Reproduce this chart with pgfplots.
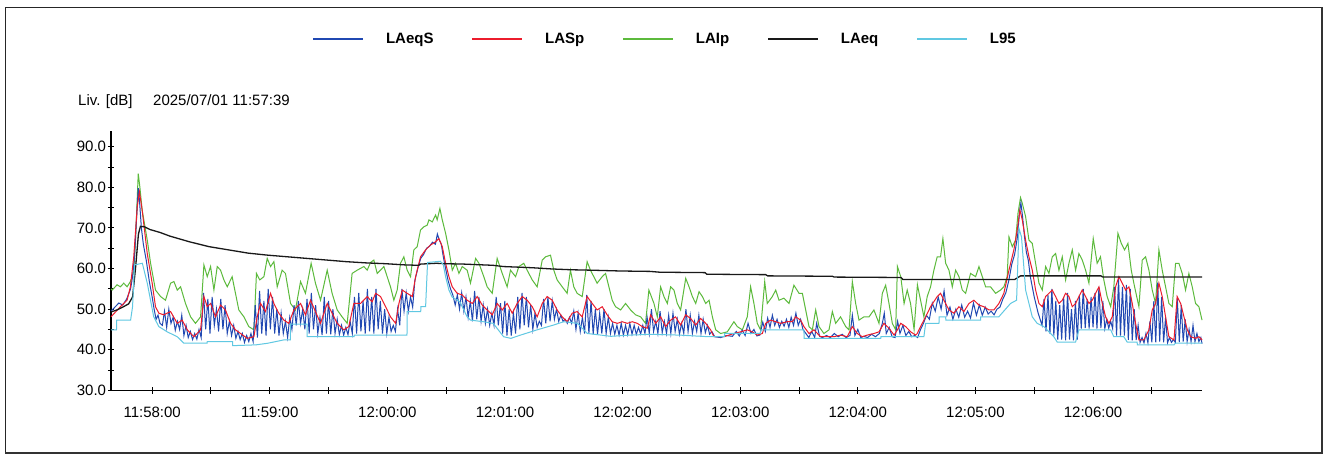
\documentclass[border=0pt]{standalone}
\usepackage{fontspec}
\setmainfont{Liberation Sans}
\usepackage{pgfplots}
\pgfplotsset{compat=1.18}
\definecolor{cBlue}{RGB}{32,72,178}
\definecolor{cRed}{RGB}{236,28,44}
\definecolor{cGreen}{RGB}{92,186,60}
\definecolor{cBlack}{RGB}{25,25,25}
\definecolor{cCyan}{RGB}{96,200,226}
\begin{document}
\begin{tikzpicture}[x=1pt,y=1pt]
\path[use as bounding box] (0,0) rectangle (1335,455);
\fill[white] (0,0) rectangle (1335,455);
\draw[line width=1pt,black!85] (5,2) -- (5,447.5) -- (1322,447.5);
\draw[line width=2pt,black!80] (1322,447.5) -- (1322,2.5) -- (5,2.5);
\begin{axis}[
  at={(111pt,64.7pt)}, anchor=south west,
  scale only axis, width=1091pt, height=259.3pt,
  xmin=0, xmax=556.6, ymin=30, ymax=93.9,
  axis lines=left, axis line style={-, line width=1.2pt},
  tick align=center, major tick length=6.5pt, minor tick length=6.5pt,
  tick style={line width=1pt, black},
  xtick={21,81,141,201,261,321,381,441,501},
  xticklabels={11:58:00,11:59:00,12:00:00,12:01:00,12:02:00,12:03:00,12:04:00,12:05:00,12:06:00},
  minor xtick={51,111,171,231,291,351,411,471,531},
  ytick={30,40,50,60,70,80,90},
  yticklabels={30.0,40.0,50.0,60.0,70.0,80.0,90.0},
  minor ytick={35,45,55,65,75,85},
  tick label style={font=\fontsize{15}{18}\selectfont},
  yticklabel style={inner sep=0pt, xshift=-1.5pt},
  xticklabel style={inner sep=0pt, yshift=-13pt},
  legend style={at={(axis description cs:0.507,1.355)}, anchor=center, draw=none,
    legend columns=5, font=\fontsize{15}{18}\selectfont\bfseries,
    /tikz/every odd column/.append style={column sep=22pt},
    /tikz/every even column/.append style={column sep=38pt},
    nodes={inner sep=0pt}},
  legend image code/.code={\draw[#1, line width=1.6pt] (0pt,0pt) -- (50pt,0pt);},
  clip=false,
]
% LAIp
\addplot[cGreen, line width=1pt, forget plot] coordinates {
(0,55.0) (0.6,54.7) (3.1,56) (4.8,55.5) (6.5,56.4) (8.2,55.5) (9.9,56.8) (11.6,59.2) (12.5,67) (13.9,83.4) (14.7,80.2) (15.9,74.4) (18.5,67) (20.2,61.3) (22.7,54.7) (25.3,53.1) (27.8,52.2) (30.4,56.4) (32.1,56.8) (33.8,54.7) (35.5,55.5) (38,51.4) (40.6,48.1) (43.1,46.5) (45.7,48.1) (47.4,60.9) (49.1,58) (50.8,60.5) (52.5,54.7) (54.2,60.5) (55.9,59.6) (57.6,57.2) (59.3,55.5) (61.8,58) (63.5,53.9) (65.2,49.8) (67.8,48.1) (70.3,45.7) (72.9,44.9) (74.2,58.8) (75.9,57.2) (78,58) (79.7,62.5) (81.4,60.5) (83.1,61.7) (84.8,55.5) (87.3,59.6) (89,58.8) (91.6,51.4) (94.1,49.8) (96.7,56.8) (99.2,53.9) (102.1,61.3) (104.3,56.4) (106.9,52.2) (110.3,59.6) (112.8,53.9) (115.4,49.8) (117.9,48.1) (120.5,46.5) (123,58.8) (125.6,59.6) (129,60.5) (130.7,59.6) (132.4,61.5) (134.1,62.1) (135.8,58.8) (137.5,59.6) (139.2,60.5) (140.9,58) (142.6,55.5) (144.3,52.2) (146,54.7) (147.7,61.3) (149.4,62.9) (151.1,59.6) (152.8,58) (154.5,64.6) (156.2,65.4) (157.9,69.5) (159.6,70.3) (161.3,70.7) (162.2,72) (163.9,71.5) (165.6,73.2) (166.4,72) (167.8,74.8) (169,72) (170.7,68.7) (172.4,64.6) (174.1,59.6) (175.8,61.3) (177.5,58.8) (179.2,60.5) (181.7,59.6) (183.4,56.4) (186,62.5) (187.7,61.3) (190.2,58) (191.9,55.5) (194.5,53.9) (197,62.5) (199.6,58.8) (202.1,55.5) (203.8,59.6) (206.4,58) (208.1,60.5) (210.6,61.3) (212.3,59.6) (214.9,57.2) (217.4,55.5) (220,62.1) (221.7,62.9) (224.2,63.3) (225.9,59.6) (227.6,57.2) (230.2,55.5) (232.7,53.9) (234.4,59.6) (236.1,55.5) (237.8,53.9) (240.4,53.1) (242.9,61.7) (244.6,59.6) (246.3,58) (248,56.4) (250.6,58) (252.3,58.8) (254,55.5) (255.7,52.2) (257.4,50.6) (260,49.8) (262.5,51.4) (265.1,49.8) (267.6,48.6) (270.2,48.1) (272.7,46.5) (274.4,54.7) (277,51.4) (278.7,48.1) (280.4,55.5) (282.1,53.1) (283.8,51.4) (285.5,55.5) (287.2,54.7) (288.9,51.4) (290.6,49.8) (293.2,57.6) (294.9,55.5) (296.6,53.1) (298.3,51.4) (300,54.3) (301.7,53.1) (303.4,51.4) (305.1,52.2) (306.8,48.1) (308.5,44.9) (311,44) (314.4,44.4) (317.8,46.9) (319.5,45.7) (322.1,44.9) (324.6,48.1) (326.3,55.5) (328,51.4) (329.7,46.5) (331.4,44.9) (333.5,56.8) (334.8,51.4) (337.4,53.1) (339.1,54.7) (340.8,52.2) (343.3,52.7) (345.9,51.4) (348.4,55.9) (351,53.9) (352.7,53.9) (354.4,49.8) (356.1,45.7) (357.8,44.9) (359.5,49.8) (361.2,45.7) (363.7,44) (366.3,44.9) (368,49.4) (369.7,46.5) (372.2,48.1) (374.8,45.7) (376.5,44.9) (378.2,56.8) (379.9,51.4) (381.6,47.3) (384.1,48.1) (386.7,48.1) (389.2,49.8) (391.8,46.5) (393.5,53.9) (395.2,55.9) (396.9,51.4) (398.6,46.5) (400.3,44.9) (401.2,60.5) (402.9,58) (404.6,51.4) (406.2,54.7) (407.9,51.4) (409.7,45.0) (411.4,56.0) (413,52.2) (414.7,48.1) (416.4,53.1) (418.1,55.5) (419.8,59.6) (421.5,62.9) (423.2,62.9) (424.4,67.4) (425.8,61.3) (427.5,59.6) (429.2,55.5) (430.9,59.6) (432.6,58) (434.3,54.7) (436,53.9) (438.5,58.8) (441.1,58) (442.8,60.5) (444.5,58) (446.2,55.5) (448.7,55.5) (451.3,53.9) (453.8,54.7) (455.5,55.5) (457.2,58) (458.1,67.8) (459.8,65.4) (461.5,67) (462.7,73.6) (464,77.5) (464.9,76.1) (466.6,72.8) (468.3,67) (470,66.2) (471.7,61.3) (473.4,56.4) (475.1,54.7) (476.8,60.5) (478.5,58.8) (480.2,62.9) (481.9,63.7) (483.6,59.6) (485.3,62.9) (487,57.2) (488.7,61.3) (490.4,64.6) (492.1,59.6) (493.8,63.7) (495.5,62.1) (497.2,59.6) (498.9,56.4) (501.1,67.4) (503.1,61.3) (504.8,62.9) (506.5,57.2) (508.2,53.1) (510,50.6) (511.6,55.5) (513.7,68.7) (515.4,66.2) (517.1,64.6) (518.8,66.2) (520.5,59.6) (522.2,55.5) (524.4,50.6) (526.1,62.1) (527.8,62.9) (529.5,59.6) (531.2,54.7) (532.9,51.4) (534.6,64.6) (536.3,59.6) (538,55.5) (539.7,51.4) (541.4,50.6) (543.1,61.3) (544.8,61.3) (546.5,58.8) (548.2,54.7) (549.9,58.8) (551.6,55.5) (553.3,51.4) (555,50.6) (556.6,47.3)
};
% LAeqS
\addplot[cBlue, line width=1pt, forget plot] coordinates {
(0,49.5) (2,50.5) (4,51.5) (6,51) (8,52.5) (10,55) (11,58) (12,63) (13,72) (13.9,79.8) (14.5,77) (15.5,70) (16.5,66) (18,62) (19.5,57) (21,53) (22,50) (23,47.5) (24,48.5) (25,46.5) (26.2,46) (27.3,49.5) (28.4,45.5) (29.5,50) (30.6,46.5) (31.7,48) (32.8,44.8) (33.9,47) (35,45) (36.1,48.5) (37.2,43.5) (38.3,46) (39.4,43) (40.5,44.5) (41.6,42.5) (42.7,44) (43.8,42.6) (44.9,45) (46,43) (47.2,54) (48.3,45) (49.4,52.5) (50.5,44) (51.6,53) (52.7,46) (53.8,50) (54.9,44.5) (56,52.5) (57.1,45) (58.2,51) (59.3,44) (60.4,47) (61.5,43.5) (62.6,46) (63.7,42.8) (64.8,44.5) (65.9,42.5) (67,44) (68.1,41.8) (69.2,43.5) (70.3,42) (71.4,44) (72.5,42) (73.6,51) (74.7,43) (75.8,54.5) (76.9,44) (78,52) (79.1,43.5) (80.2,55) (81.3,45) (82.4,53) (83.5,44) (84.6,50) (85.7,43.5) (86.8,49) (87.9,44) (89,47) (90.1,43) (91.2,48) (92.3,45) (93.4,51) (94.5,46) (95.6,52) (96.7,46.5) (97.8,50) (98.9,45) (100,52.5) (101.1,44) (102.2,54) (103.3,45) (104.4,51) (105.5,44) (106.6,48) (107.7,43.6) (108.8,53) (109.9,44) (111,52) (112.1,43.8) (113.2,50) (114.3,44) (115.4,47.5) (116.5,43.7) (117.6,46) (118.7,43.6) (119.8,45.5) (120.9,43.7) (122,47) (123.1,44) (124.2,53) (125.3,44) (126.4,54) (127.5,44.5) (128.6,52) (129.7,44) (130.8,55) (131.9,44.5) (133,53) (134.1,44) (135.2,55) (136.3,45) (137.4,52) (138.5,44) (139.6,50) (140.7,44) (141.8,48) (142.9,44.5) (144,46) (145.1,44.5) (146.2,50) (147.3,46) (148.4,55) (149.5,49.5) (150.6,54) (151.7,49.5) (152.8,53) (153.9,50.5) (155,57) (156.5,60) (158,62.5) (159.5,63.5) (161,65) (162.5,65.5) (164,66.5) (165.5,66) (166.5,68.5) (167.5,67) (168.5,66) (169.5,63) (170.7,60) (172,57) (173.2,55) (174.4,53.5) (175.6,51) (176.7,53.5) (177.8,50) (178.9,54) (180,49.5) (181.1,53) (182.2,48) (183.3,52) (184.4,47) (185.5,54.5) (186.6,47.5) (187.7,53) (188.8,47) (189.9,51) (191,46.5) (192.1,50) (193.2,46) (194.3,49) (195.4,46) (196.5,53) (197.6,46) (198.7,51.5) (199.8,44) (200.9,52) (202,43.5) (203.1,50) (204.2,43.5) (205.3,49) (206.4,44) (207.5,53) (208.6,45) (209.7,54) (210.8,46) (211.9,53) (213,45.5) (214.1,51) (215.2,45) (216.3,49) (217.4,45.5) (218.5,47) (219.6,46) (220.7,52.5) (221.8,46.5) (222.9,53) (224,47) (225.1,52) (226.2,47.5) (227.3,50) (228.4,47) (229.5,48.5) (230.6,47) (231.7,47.5) (232.8,46.5) (233.9,48) (235,46.5) (236.1,49.5) (237.2,45) (238.3,49) (239.4,44.5) (240.5,48) (241.6,44) (242.7,53.5) (243.8,44) (244.9,52) (246,43.8) (247.1,50) (248.2,43.8) (249.3,49) (250.4,44) (251.5,50) (252.6,44) (253.7,48) (254.8,44) (255.9,46.5) (257,43.8) (258.1,46) (259.2,43.6) (260.3,46.5) (261.4,43.6) (262.5,46) (263.6,43.7) (264.7,46.5) (265.8,43.8) (266.9,46) (268,43.8) (269.1,45.5) (270.2,43.9) (271.3,46) (272.4,44) (273.5,48) (274.6,44) (275.7,50) (276.8,44.5) (277.9,47) (279,44) (280.1,49.5) (281.2,44.2) (282.3,47) (283.4,44) (284.5,48.5) (285.6,44) (286.7,49) (287.8,44.5) (288.9,47.5) (290,43.8) (291.1,46.5) (292.2,44) (293.3,50) (294.4,44.5) (295.5,48.5) (296.6,44) (297.7,47) (298.8,44.5) (299.9,48.5) (301,44) (302.1,47.5) (303.2,44.2) (304.3,46) (305.4,43.8) (306.5,44.5) (308,43.2) (311,43) (314,43.5) (317,43.3) (319,44.5) (320.5,43.4) (322,44.8) (323.5,43.5) (325,46.5) (326.5,44) (328,45) (329.5,43.4) (331,43.6) (332.5,46.8) (333.8,44.5) (335,47.8) (336.2,45.5) (337.4,48.5) (338.6,46) (339.8,47.5) (341,45.5) (342.2,47) (343.4,45.8) (344.6,47.5) (345.8,45.5) (347,48) (348.2,46) (349.4,49) (350.6,46) (351.8,47.5) (353,45) (354.5,44) (356,43) (357.5,44.5) (359,43) (360,46.5) (361.5,43.3) (363,43) (365,43.5) (367,43) (369,44) (371,43.2) (373,43.8) (375,43) (377,43.5) (378.2,48.5) (379.5,43.5) (381,45) (382.5,43) (384,43.3) (386,43) (388,43.8) (390,43.2) (392,44) (393.5,46.5) (394.5,49) (395.5,44) (397,45.5) (398.5,43.2) (400,43) (401.3,47) (402.5,44) (404,46) (405.5,43.5) (407,44.5) (408.5,43.2) (410,43.5) (411.5,43) (413,45) (414.5,46.5) (416,48.5) (417.5,47.5) (419,51.5) (420.5,49.5) (422,53) (423.5,50) (425,54.5) (426.5,48.5) (428,50.5) (429.5,47.5) (431,50) (432.5,48) (434,51) (435.5,48) (437,49.5) (438.5,47.8) (440,51.5) (441.5,48.5) (443,51) (444.5,48.5) (446,50.5) (447.5,48.8) (449,49.5) (450.5,48.6) (452,50) (453.5,50.5) (455,52.5) (456.5,54) (458,57) (459.5,61) (461,63.5) (462.5,68) (463.5,74) (464.2,76.2) (465,73) (466,68) (467,64) (468,62) (469,58) (470,55.5) (471,53) (472,51) (473,49) (474,47.5) (475,46) (476,52.5) (477,44.5) (478,53.5) (479,44) (480,55) (481,43.5) (482,52) (483,42.5) (484,51) (485,42.5) (486,53) (487,42.3) (488,54) (489,42.5) (490,50) (491,42.3) (492,52) (493,42.5) (494,53.5) (495,45.2) (496,55) (497,45.3) (498,52.5) (499,45.2) (500,53) (501,45.5) (502,54) (503,45.2) (504,55.5) (505,45.3) (506,52) (507,45.2) (508,47.5) (509,45.3) (510,47) (511,45.2) (512,55.5) (513,43.5) (514,57.5) (515,43.5) (516,55.5) (517,43.5) (518,56) (519,42.4) (520,55) (521,42.3) (522,50) (523,42.4) (524,46) (525,41.8) (526,43) (527,41.7) (528,44) (529,41.7) (530,47) (531,41.8) (532,52) (533,41.8) (534,56.5) (535,42) (536,53) (537,41.8) (538,48) (539,41.7) (540,43) (541,41.8) (542,42.5) (543,41.8) (544,52.5) (545,41.9) (546,51) (547,42) (548,47.5) (549,42) (550,45) (551,42) (552,46) (553,42) (554,44) (555,42) (556,43) (556.6,41.5)
};
% LASp
\addplot[cRed, line width=1pt, forget plot] coordinates {
(0,48.1) (4.8,50.6) (8.2,52.2) (9.9,55.5) (11.6,62.9) (13.4,75.2) (14.5,78.9) (15.9,74.4) (18.5,63.7) (21,56.4) (22.7,50.6) (24.4,49) (26.9,48.6) (30.4,49.4) (33.8,46.5) (36.3,47.3) (38.9,44.9) (42.3,43.2) (45.7,44.9) (47.4,53.1) (49.1,50.6) (50.8,51.4) (53.3,48.1) (55.9,51) (58.4,49.8) (61,46.5) (63.5,44.9) (66.1,44) (69.5,42.8) (72.9,43.2) (74.6,48.1) (76.3,51.4) (78.8,49.4) (81.4,53.9) (83.1,51.4) (85.6,49) (88.2,47.3) (90.7,46.5) (93.3,49.8) (96.7,51.4) (99.2,48.6) (101.8,52.2) (104.3,49.4) (106.9,46.5) (110.3,51.4) (112.8,49) (115.4,46.5) (118.8,44.9) (121.3,45.7) (123.9,51.4) (127.3,51.4) (130.7,53.1) (133.2,51.8) (135,53.9) (137.5,53.1) (140.1,50.6) (142.6,48.1) (145.2,46.5) (146.9,51.4) (148.6,54.7) (151.1,53.9) (153.7,53.1) (155.4,58) (157.9,62.9) (160.5,64.6) (163,65.8) (165.6,66.6) (167.3,67.4) (169,65.4) (170.7,61.3) (172.4,58) (174.1,55.5) (176.6,53.9) (179.2,53.5) (181.7,52.2) (184.3,51.4) (186.8,53.1) (189.4,51) (191.9,49.8) (194.5,48.6) (197,51.4) (199.6,49.8) (202.1,51.4) (204.7,49) (207.2,51.4) (209.8,53.1) (212.3,52.2) (214.9,50.6) (217.4,48.1) (220,51.4) (222.5,53.1) (225.1,52.2) (227.6,49.8) (230.2,48.1) (232.7,46.9) (235.3,49) (237.8,49.4) (240.4,48.1) (242.9,53.1) (245.5,51.4) (248,49.8) (250.6,50.6) (253.1,48.6) (255.7,46.9) (258.3,46.5) (260.8,46.9) (263.4,46.5) (265.9,46.9) (268.5,46.5) (271,45.7) (273.6,45.3) (275.3,48.6) (277.9,46.5) (280.4,48.1) (283,45.7) (285.5,47.3) (288,48.1) (290.6,46.1) (293.2,48.6) (295.7,47.7) (298.3,46.1) (300.8,47.7) (303.4,46.5) (305.9,44.9) (307.6,43.2) (312.7,43.2) (317.8,44) (321.2,44.4) (324.6,44.9) (327.2,44.4) (329.7,43.6) (332.3,44) (334,46.5) (336.5,47.3) (339.1,46.9) (341.6,46.5) (345,46.9) (347.6,46.9) (349.3,48.1) (351.8,47.3) (353.5,45.7) (356.1,44) (358.6,44.9) (362,43.2) (365.4,43.2) (368.8,43.2) (372.2,43.6) (375.6,43.2) (378.2,45.7) (380.7,44) (383.3,43.2) (385.8,43.6) (389.2,44) (391.8,44.4) (394.3,46.5) (396.9,45.3) (399.5,43.6) (401.2,44.9) (402.9,46.5) (405.4,45.7) (408,44.4) (410.5,43.6) (411.3,44) (413,45.7) (415.6,48.1) (418.1,50.6) (421.5,53.1) (423.2,53.9) (424.9,52.2) (427.5,49.8) (430,49) (432.6,50.6) (435.1,49.4) (437.7,51.4) (440.2,52.2) (442.8,51) (445.3,50.6) (447.9,49.8) (450.4,49.8) (453,51.4) (455.5,53.9) (458.1,59.6) (460.6,64.6) (462.3,69.5) (463.7,74.4) (464.9,72) (466.6,67) (468.3,62.9) (470,59.6) (471.7,54.7) (473.4,51.4) (475.1,50.6) (476.8,53.1) (478.5,53.9) (480.2,54.7) (481.9,53.1) (483.6,51.4) (485.3,52.2) (487,53.9) (488.7,53.1) (490.4,50.6) (492.1,51.4) (493.8,53.1) (495.5,54.7) (497.2,53.1) (498.9,51.4) (500.6,52.2) (502.3,53.9) (504,55.5) (505.7,51.4) (507.4,48.1) (509.1,46.5) (510.8,48.1) (512.5,55.5) (514.2,58) (515.9,56.4) (517.6,54.7) (519.3,55.5) (521,51.4) (522.7,46.5) (524.4,42.4) (526.9,42.4) (529.5,44.9) (531.2,49.8) (532.9,51.4) (534.6,56.4) (536.3,53.1) (538,48.1) (539.7,43.2) (542.3,42.4) (543.9,53.1) (545.7,51.4) (547.4,48.1) (549.1,44.9) (550.8,43.2) (553.3,42.8) (555,43.2) (556.6,42.4)
};
% LAeq
\addplot[cBlack, line width=1.3pt, forget plot] coordinates {
(0,49.3) (3,49.8) (6,50.5) (9,51.3) (11,53) (12.5,60) (14,68.5) (15,70.4) (17,70.3) (20,69.6) (25,68.9) (30,68) (35,67.3) (40,66.6) (45,66) (50,65.4) (60,64.6) (70,63.8) (80,63.3) (90,62.9) (100,62.5) (110,62.1) (120,61.7) (130,61.4) (140,61.2) (150,60.9) (157,60.8) (158,61.1) (166,61.3) (170,61.2) (180,61.1) (195,60.8) (200,60.5) (215,60.2) (225,59.9) (235,59.7) (245,59.6) (260,59.4) (275,59.3) (280,59.1) (303,59.0) (304,58.6) (334,58.5) (335,58.2) (368,58.1) (369,57.9) (403,57.8) (404,57.3) (461,57.3) (464,58.2) (505,58.2) (506,57.9) (556.6,57.9)
};
% L95
\addplot[cCyan, line width=1pt, forget plot] coordinates {
(0,44.9) (2.8,44.9) (2.9,47.3) (10,47.3) (11,50.6) (12,60.9) (16,61.3) (18.5,56.4) (21.8,48.1) (24.4,45.7) (28.7,44.4) (33.8,43.2) (37.2,41.6) (49,41.6) (49.1,42) (62,42) (62.1,41) (74,41.2) (80,41.6) (88,42.4) (91.5,42.4) (91.6,46.3) (100,46.3) (100.1,43.2) (124,43.2) (124.1,43.6) (151,43.6) (151.1,49.4) (158,49.4) (158.1,50.6) (160.5,50.6) (161.5,61.5) (168,61.8) (169.5,61) (170.7,58) (172.4,54.7) (174,53) (178,51.8) (181.7,48.1) (183.4,47.3) (190,46.9) (195,46.5) (200.3,43.2) (204,42.8) (208.9,43.6) (217.4,44.9) (225.9,46.1) (231,46.9) (238,46.5) (243,44) (250,43.6) (255,43.3) (265,43.6) (275,43.8) (290,43.6) (305,43.2) (313,43.2) (313.1,44) (331.4,44) (331.5,44.9) (353.5,44.9) (353.6,42.8) (392.7,42.8) (392.8,43.2) (414.7,43.2) (415.6,46.5) (422.4,46.5) (422.5,48.1) (425.8,48.1) (425.9,47.3) (443.6,47.3) (443.7,48.1) (452.9,48.1) (458.9,51.4) (462,52.2) (463.2,69.9) (464.5,67.8) (466.6,54.7) (470,48.1) (472.5,46.5) (475.9,45.7) (481,43.2) (482.7,41.9) (492.1,41.9) (493.8,44.9) (510,44.9) (511.6,43.2) (516.7,43.2) (518.4,41.9) (523.5,41.9) (523.6,41.2) (542.3,41.2) (543,41.6) (556.6,41.6)
};
\addlegendimage{cBlue}\addlegendentry{LAeqS}
\addlegendimage{cRed}\addlegendentry{LASp}
\addlegendimage{cGreen}\addlegendentry{LAIp}
\addlegendimage{cBlack}\addlegendentry{LAeq}
\addlegendimage{cCyan}\addlegendentry{L95}
\end{axis}
\node[anchor=base west, inner sep=0pt, font=\fontsize{15}{18}\selectfont] at (78,349) {Liv. [dB]};
\node[anchor=base west, inner sep=0pt, font=\fontsize{15}{18}\selectfont] at (153,349) {2025/07/01 11:57:39};
\end{tikzpicture}
\end{document}
